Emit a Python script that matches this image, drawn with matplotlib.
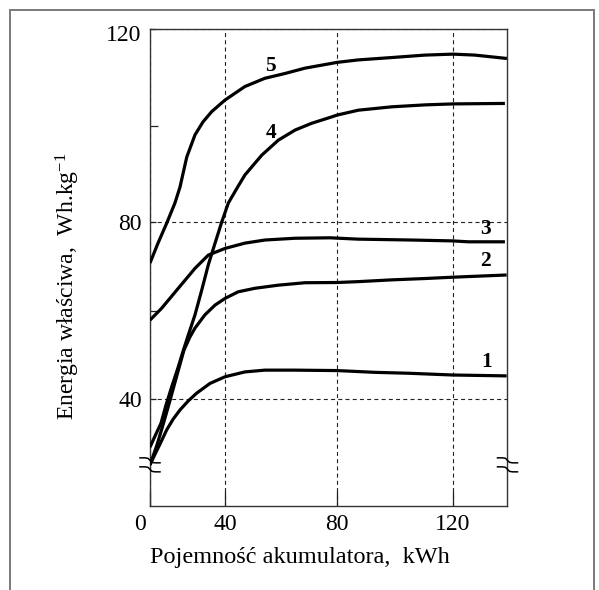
import numpy as np
import matplotlib
matplotlib.use("Agg")
import matplotlib.pyplot as plt
import matplotlib.transforms as mtransforms
from matplotlib.patches import Rectangle

plt.rcParams['font.family'] = ['Liberation Serif', 'DejaVu Serif']
plt.rcParams['mathtext.fontset'] = 'custom'
plt.rcParams['mathtext.rm'] = 'Liberation Serif'
plt.rcParams['mathtext.it'] = 'Liberation Serif:italic'

# ---- curves: specific energy vs. battery capacity ----
x1 = [0, 2.67, 5.33, 8.9, 12.3, 16.0, 20.3, 24.9, 32.0, 40, 47.1, 54.2, 64.9, 80, 93.1, 104.6, 120, 138.7]
y1 = [25.2, 27.6, 29.9, 33.1, 35.5, 37.6, 39.6, 41.4, 43.6, 45.1, 46.2, 46.6, 46.6, 46.5, 46.1, 45.9, 45.5, 45.3]

x2 = [0, 3.73, 7.2, 10.7, 14.4, 18.1, 21.3, 24.0, 29.3, 34.7, 40, 44.7, 50.7, 59.0, 68.5, 80, 87.3, 98.9, 110.4, 120, 138.7]
y2 = [25.2, 29.7, 34.6, 39.8, 45.5, 51.1, 54.1, 56.1, 59.1, 61.3, 62.8, 64.3, 65.1, 65.8, 66.35, 66.4, 66.6, 67.0, 67.3, 67.6, 68.1]

x3 = [0, 6.24, 15.1, 24.0, 31.1, 40, 47.1, 54.2, 64.9, 77.4, 87.2, 105.8, 120, 125.4, 138.1]
y3 = [57.9, 60.6, 65.1, 69.6, 72.6, 74.1, 75.3, 76.0, 76.4, 76.5, 76.2, 76.0, 75.8, 75.6, 75.6]

x4 = [0, 2.67, 5.87, 8.53, 11.7, 14.9, 17.8, 20.4, 24.0, 27.6, 31.1, 34.7, 38.2, 41.2, 44.3,
      47.1, 53.1, 59.0, 65.0, 70.9, 77.4, 80, 87.3, 98.9, 110.4, 120, 138.1]
y4 = [29.2, 31.7, 34.6, 38.7, 43.0, 47.1, 51.1, 54.5, 59.1, 64.7, 70.4, 75.3, 80.0, 84.0, 87.1,
      89.8, 93.9, 97.0, 99.1, 100.5, 101.7, 102.2, 103.2, 103.9, 104.3, 104.5, 104.6]

x5 = [0, 4.27, 8.9, 13.3, 16.0, 19.6, 24.0, 28.3, 32.9, 40, 47.1, 54.2, 61.4, 68.5, 80,
      87.2, 99.0, 110.4, 120.1, 127.7, 138.8]
y5 = [70.8, 75.3, 79.8, 84.0, 87.3, 93.5, 98.1, 100.8, 102.9, 105.3, 108.1, 109.8, 110.8, 111.9, 113.1,
      113.6, 114.1, 114.6, 114.8, 114.6, 113.9]

curve_x = [x1, x2, x3, x4, x5]
curve_y = [y1, y2, y3, y4, y5]

curve_names = ['1', '2', '3', '4', '5']
name_x = [131.8, 131.5, 131.5, 56.3, 56.3]
name_y = [48.5, 71.3, 78.5, 98.4, 112.3]

xticks = [0, 40, 80, 120]
xticklabels = ['0', '40', '80', '120']
yticks = [40, 80, 120]
yticklabels = ['40', '80', '120']
yminor = [60, 100]

x_label = 'Pojemność akumulatora,  kWh'
y_label = 'Energia właściwa,  Wh.kg$^{-1}$'


def piecewise(knots_in, knots_out):
    ki = np.asarray(knots_in, float)
    ko = np.asarray(knots_out, float)
    s0 = (ko[1] - ko[0]) / (ki[1] - ki[0])
    s1 = (ko[-1] - ko[-2]) / (ki[-1] - ki[-2])

    def f(v):
        v = np.asarray(v, float)
        out = np.interp(v, ki, ko)
        out = np.where(v < ki[0], ko[0] + (v - ki[0]) * s0, out)
        out = np.where(v > ki[-1], ko[-1] + (v - ki[-1]) * s1, out)
        return out
    return f


# x: first interval (0-40) drawn compressed; y: broken below 40
x_knots, x_vis = [0, 40, 80, 120], [0, 75, 187.3, 302.7]
y_knots, y_vis = [40, 80, 120], [0, 177, 370.3]

W, H = 599, 590
fig = plt.figure(figsize=(W / 100, H / 100), dpi=100)
fig.patch.set_facecolor('white')
ax = fig.add_axes([150 / W, (H - 506) / H, 357.5 / W, 477 / H])

ax.set_xscale('function', functions=(piecewise(x_knots, x_vis), piecewise(x_vis, x_knots)))
ax.set_yscale('function', functions=(piecewise(y_knots, y_vis), piecewise(y_vis, y_knots)))
ax.set_xlim(0, 139)
ax.set_ylim(15.9, 120)

for sp in ax.spines.values():
    sp.set_color('#333333')
    sp.set_linewidth(1.0)

ax.set_xticks(xticks)
ax.set_xticklabels(xticklabels)
ax.set_yticks(yticks)
ax.set_yticklabels(yticklabels)
ax.set_yticks(yminor, minor=True)
ax.xaxis.set_minor_locator(matplotlib.ticker.NullLocator())

ax.tick_params(axis='x', which='major', direction='in', length=11, width=0.9,
               labelsize=17, pad=6, color='#222222', top=False)
ax.tick_params(axis='y', which='major', direction='in', length=4, width=0.9,
               labelsize=17, pad=6, color='#222222', right=False)
ax.tick_params(axis='y', which='minor', direction='in', length=6, width=0.9,
               color='#222222', right=False)

ax.grid(True, which='major', linestyle=(0, (3.6, 2.9)), linewidth=0.8, color='#222222')
ax.set_axisbelow(True)

for xs, ys in zip(curve_x, curve_y):
    ax.plot(xs, ys, color='black', lw=2.3, solid_joinstyle='round', solid_capstyle='butt', zorder=3)

for name, tx, ty in zip(curve_names, name_x, name_y):
    ax.text(tx, ty, name, fontsize=15.5, fontweight='bold', ha='center', va='center', zorder=4)

# the "0" label sits slightly left of the axis origin
lbl0 = ax.get_xticklabels()[0]
lbl0.set_transform(lbl0.get_transform() + mtransforms.ScaledTranslation(-0.1, 0, fig.dpi_scale_trans))

# the "120" label sits a little below the top spine
lbl120 = ax.get_yticklabels()[-1]
lbl120.set_transform(lbl120.get_transform() + mtransforms.ScaledTranslation(0, -0.04, fig.dpi_scale_trans))

# axis-break marks on both vertical spines
break_y = 25.2


def axis_break(xfrac, ydata):
    yfrac = ax.transAxes.inverted().transform(ax.transData.transform((0, ydata)))[1]
    base = fig.dpi_scale_trans + mtransforms.ScaledTranslation(xfrac, yfrac, ax.transAxes)
    px = np.array([-10, -5, -2, 0, 2, 5, 10], float)
    for dy in (4.5, -4.5):
        py = np.array([2.5, 2.5, 2.0, 0.0, -2.0, -2.5, -2.5]) + dy
        ax.plot(px / 100, py / 100, transform=base, color='black', lw=1.1,
                clip_on=False, zorder=5)


axis_break(0.0, break_y)
axis_break(1.0, break_y)

fig.text(300 / W, 1 - 562.7 / H, x_label, ha='center', va='baseline', fontsize=17.5)
fig.text(74.5 / W, 1 - 286.5 / H, y_label, rotation=90, rotation_mode='anchor',
         ha='center', va='baseline', fontsize=17)

# grey frame around the figure
fig.patches.append(Rectangle((10 / W, -0.05), (594 - 10) / W, 1 - 10 / H + 0.05,
                             transform=fig.transFigure, fill=False, ec='#7a7a7a', lw=1.4))

fig.savefig('out.png', dpi=100)
